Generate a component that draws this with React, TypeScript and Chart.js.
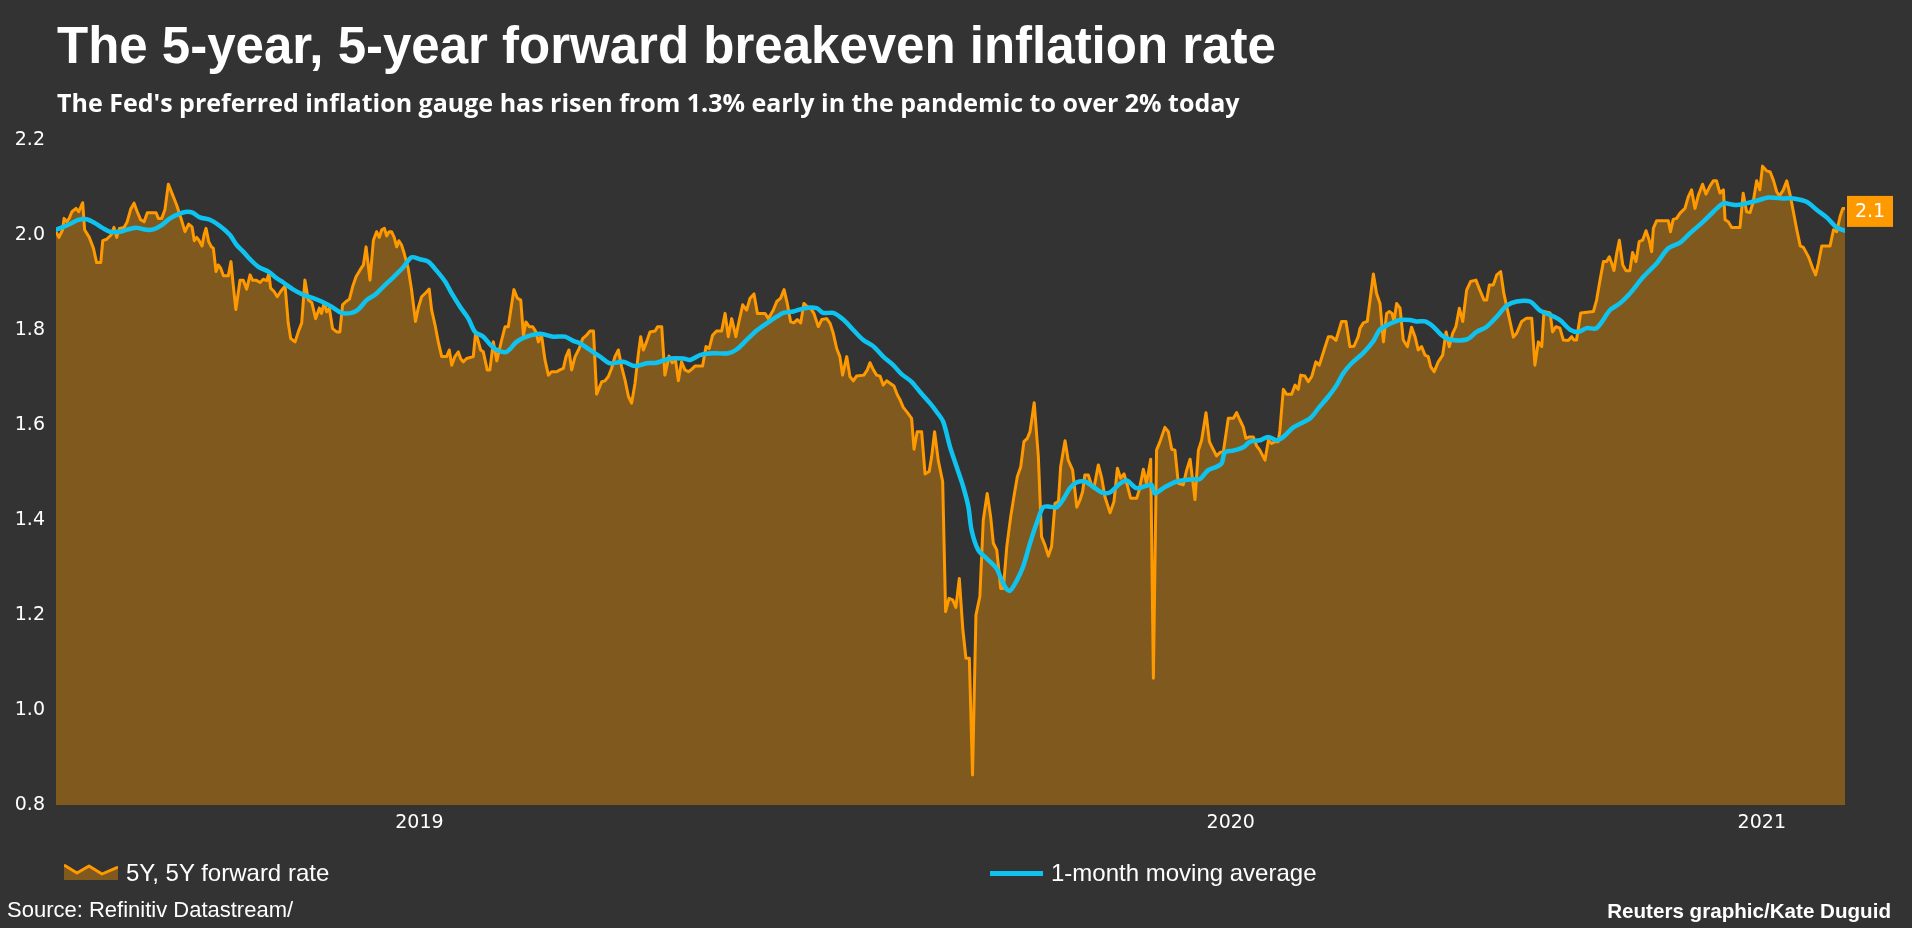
import React, { useEffect, useRef } from "react";
import { Chart, registerables } from "chart.js";

Chart.register(...registerables);

// ---------- DATA ----------
const START_DATE = "2019-03-10";
const END_DATE = "2021-03-10";
const YEAR_STARTS = ["2020-01-01", "2021-01-01"];
const YEAR_LABELS = ["2019", "2020", "2021"];
const Y_MIN = 0.8;
const Y_MAX = 2.2;
const Y_STEP = 0.2;

const SERIES_NAMES = ["5Y, 5Y forward rate", "1-month moving average"];

// day offsets from START_DATE
const RATE_DAYS = [
  0, 1.2, 2.7, 3.3, 4.4, 5.4, 6.5, 8.2, 9.3, 10.9, 11.7, 13.6, 15.3, 16.6, 18.3, 19.1, 20.7, 22.5, 23.7, 24.8,
  25.9, 27.8, 29.1, 30.5, 31.9, 33.2, 34.6, 36.0, 37.3, 40.9, 41.8, 43.2, 44.5, 45.9, 47.7, 49.3, 50.9, 52.7, 54.2, 55.6,
  56.5, 57.5, 58.4, 59.7, 60.5, 61.3, 62.4, 63.5, 64.3, 65.4, 66.3, 67.3, 68.4, 70.4, 71.5, 72.4, 73.5, 75.2, 76.5, 77.9,
  79.3, 80.3, 81.7, 83.4, 84.7, 86.1, 87.0, 87.7, 89.1, 90.4, 91.8, 93.6, 94.9, 95.9, 97.7, 99.0, 100.4, 101.7, 103.1, 104.5,
  106.1, 107.6, 108.5, 109.6, 110.6, 111.7, 113.0, 114.7, 116.0, 117.1, 118.5, 119.9, 121.2, 122.6, 124.2, 125.6, 126.7, 128.3, 129.7, 131.0,
  132.1, 133.1, 134.2, 135.1, 136.1, 137.1, 138.2, 139.2, 140.1, 141.2, 142.3, 143.9, 145.3, 146.9, 148.0, 149.4, 151.2, 152.5, 153.5, 154.9,
  156.2, 157.6, 159.6, 160.7, 161.7, 163.0, 164.4, 165.3, 166.4, 167.8, 170.5, 171.5, 172.6, 173.5, 174.6, 176.2, 177.3, 178.7, 180.1, 182.1,
  183.5, 184.8, 187.1, 188.5, 189.9, 191.0, 192.0, 193.4, 194.8, 196.1, 197.1, 198.4, 199.8, 201.2, 202.5, 204.6, 205.9, 207.3, 208.4, 209.6,
  210.7, 212.1, 213.8, 215.2, 216.8, 218.2, 219.6, 220.9, 223.0, 224.3, 225.7, 227.0, 228.4, 229.8, 231.1, 232.5, 233.9, 235.2, 236.6, 237.9,
  238.9, 240.0, 241.3, 242.7, 244.8, 245.8, 247.5, 248.8, 250.5, 251.8, 253.2, 254.3, 255.6, 257.0, 258.4, 259.7, 261.1, 264.2, 265.6, 266.9,
  268.3, 269.9, 272.0, 273.4, 274.7, 276.1, 277.8, 279.2, 280.6, 282.2, 283.6, 285.2, 286.6, 289.7, 291.1, 293.1, 294.5, 296.1, 297.5, 298.8,
  300.2, 301.5, 302.9, 304.3, 305.6, 307.0, 308.3, 309.7, 311.5, 312.9, 314.9, 316.3, 317.6, 319.0, 320.3, 321.4, 323.1, 324.4, 325.8, 327.1,
  330.1, 331.5, 332.6, 334.0, 335.3, 336.7, 338.0, 339.4, 340.8, 342.4, 343.8, 344.9, 346.2, 347.9, 349.6, 350.6, 351.9, 353.7, 355.1, 356.8,
  357.8, 359.0, 360.5, 362.3, 363.5, 364.9, 366.4, 367.7, 369.1, 370.5, 371.8, 373.2, 374.5, 375.9, 377.5, 378.9, 380.5, 381.9, 383.0, 384.4,
  386.0, 387.1, 388.5, 390.1, 391.4, 392.8, 394.2, 395.5, 396.9, 398.0, 399.7, 401.4, 402.7, 404.1, 405.5, 406.8, 408.2, 409.6, 410.5, 412.3,
  413.6, 415.4, 417.1, 418.4, 419.5, 420.4, 421.8, 423.2, 424.1, 425.9, 427.3, 428.6, 430.7, 432.3, 433.7, 435.0, 436.4, 437.7, 439.1, 441.6,
  442.6, 444.3, 445.6, 447.3, 448.4, 449.7, 451.1, 453.1, 454.5, 455.9, 457.2, 458.6, 460.6, 462.0, 463.4, 465.4, 466.8, 468.1, 469.9, 471.3,
  472.6, 474.2, 475.6, 477.0, 479.0, 481.1, 482.4, 483.8, 485.1, 486.2, 487.6, 489.2, 490.6, 491.9, 494.0, 495.4, 496.7, 498.1, 499.4, 500.1,
  501.5, 502.8, 504.9, 506.3, 507.6, 508.6, 510.3, 511.7, 513.1, 514.8, 516.2, 517.6, 519.9, 521.2, 523.0, 525.3, 527.1, 528.7, 530.4, 532.1,
  532.8, 534.2, 535.8, 538.3, 539.6, 541.0, 542.4, 543.7, 544.8, 545.9, 546.7, 547.8, 549.2, 550.5, 552.2, 553.9, 555.3, 556.6, 558.0, 559.4,
  560.7, 561.7, 563.1, 564.8, 566.6, 568.0, 569.3, 570.7, 572.0, 573.4, 574.8, 576.4, 578.0, 580.2, 581.8, 583.5, 584.6, 585.7, 587.3, 588.7,
  590.3, 591.6, 593.4, 595.5, 596.8, 598.9, 600.9, 603.0, 604.3, 605.7, 607.1, 608.0, 610.5, 611.5, 612.9, 614.5, 615.9, 617.9, 619.3, 620.2,
  621.3, 623.0, 628.2, 629.5, 630.9, 632.3, 633.6, 634.7, 635.7, 636.6, 637.7, 638.8, 640.2, 641.5, 643.1, 644.2, 645.6, 646.9, 648.3, 649.7,
  651.0, 652.0, 652.7, 654.0, 658.8, 659.7, 660.8, 662.2, 663.6, 665.6, 667.0, 668.3, 669.7, 671.1, 672.8, 674.2, 675.8, 677.2, 678.5, 679.9,
  681.3, 682.0, 683.3, 684.7, 688.1, 689.4, 690.8, 692.2, 693.5, 694.9, 696.2, 697.3, 699.0, 700.4, 701.7, 703.1, 704.2, 705.8, 707.2, 708.6,
  709.9, 711.3, 712.7, 714.0, 716.1, 717.8, 719.0, 720.1, 721.5, 724.9, 726.3, 727.6, 729.0, 730.1, 731.0,
];

const RATE_VALUES = [
  2.007, 1.995, 2.011, 2.035, 2.028, 2.035, 2.049, 2.056, 2.049, 2.068, 2.011, 1.995, 1.972, 1.942, 1.942, 1.988, 1.991, 2.0, 2.016, 1.995,
  2.014, 2.016, 2.028, 2.054, 2.067, 2.049, 2.032, 2.028, 2.047, 2.047, 2.035, 2.035, 2.053, 2.107, 2.084, 2.063, 2.038, 2.007, 2.023, 2.017,
  1.988, 1.995, 1.989, 1.977, 2.0, 2.014, 1.986, 1.975, 1.972, 1.923, 1.937, 1.93, 1.914, 1.914, 1.944, 1.895, 1.843, 1.905, 1.905, 1.886,
  1.916, 1.905, 1.905, 1.9, 1.907, 1.904, 1.919, 1.888, 1.881, 1.87, 1.881, 1.893, 1.814, 1.782, 1.775, 1.796, 1.815, 1.905, 1.863, 1.858,
  1.824, 1.846, 1.835, 1.858, 1.838, 1.846, 1.803, 1.796, 1.796, 1.853, 1.86, 1.865, 1.891, 1.912, 1.926, 1.937, 1.975, 1.905, 1.989, 2.007,
  1.995, 2.011, 2.014, 1.998, 2.007, 2.007, 1.995, 1.975, 1.988, 1.979, 1.961, 1.93, 1.884, 1.818, 1.846, 1.87, 1.879, 1.886, 1.842, 1.81,
  1.775, 1.744, 1.744, 1.758, 1.726, 1.744, 1.754, 1.74, 1.733, 1.74, 1.744, 1.796, 1.775, 1.758, 1.754, 1.716, 1.716, 1.775, 1.735, 1.779,
  1.807, 1.807, 1.885, 1.867, 1.863, 1.789, 1.817, 1.807, 1.807, 1.796, 1.775, 1.789, 1.737, 1.705, 1.712, 1.712, 1.716, 1.719, 1.744, 1.758,
  1.716, 1.744, 1.761, 1.782, 1.789, 1.798, 1.798, 1.665, 1.691, 1.693, 1.702, 1.719, 1.744, 1.758, 1.723, 1.695, 1.66, 1.646, 1.688, 1.747,
  1.786, 1.758, 1.775, 1.796, 1.798, 1.807, 1.807, 1.705, 1.745, 1.731, 1.735, 1.693, 1.733, 1.716, 1.712, 1.717, 1.724, 1.724, 1.765, 1.761,
  1.789, 1.798, 1.798, 1.835, 1.786, 1.824, 1.786, 1.821, 1.853, 1.842, 1.867, 1.876, 1.835, 1.835, 1.824, 1.842, 1.86, 1.867, 1.885, 1.856,
  1.817, 1.815, 1.822, 1.815, 1.856, 1.849, 1.846, 1.835, 1.807, 1.822, 1.824, 1.814, 1.793, 1.761, 1.744, 1.705, 1.744, 1.702, 1.693, 1.703,
  1.705, 1.716, 1.731, 1.716, 1.705, 1.703, 1.684, 1.693, 1.688, 1.682, 1.663, 1.653, 1.637, 1.626, 1.614, 1.549, 1.586, 1.586, 1.497, 1.502,
  1.533, 1.586, 1.525, 1.481, 1.207, 1.235, 1.232, 1.216, 1.277, 1.172, 1.109, 1.109, 0.863, 1.2, 1.239, 1.4, 1.456, 1.407, 1.351, 1.337,
  1.256, 1.256, 1.344, 1.407, 1.449, 1.491, 1.512, 1.565, 1.572, 1.586, 1.647, 1.533, 1.365, 1.347, 1.324, 1.344, 1.435, 1.439, 1.512, 1.567,
  1.526, 1.505, 1.427, 1.442, 1.46, 1.495, 1.495, 1.472, 1.467, 1.516, 1.488, 1.449, 1.415, 1.439, 1.509, 1.488, 1.497, 1.474, 1.446, 1.446,
  1.463, 1.507, 1.477, 1.528, 1.067, 1.547, 1.565, 1.595, 1.586, 1.549, 1.547, 1.477, 1.474, 1.505, 1.528, 1.443, 1.547, 1.568, 1.626, 1.565,
  1.551, 1.535, 1.542, 1.544, 1.614, 1.614, 1.626, 1.61, 1.596, 1.572, 1.575, 1.575, 1.556, 1.547, 1.526, 1.568, 1.561, 1.565, 1.565, 1.589,
  1.675, 1.665, 1.665, 1.684, 1.675, 1.705, 1.703, 1.691, 1.702, 1.733, 1.726, 1.749, 1.786, 1.786, 1.778, 1.818, 1.818, 1.765, 1.766, 1.786,
  1.803, 1.815, 1.818, 1.918, 1.877, 1.856, 1.775, 1.835, 1.839, 1.835, 1.818, 1.856, 1.846, 1.779, 1.765, 1.806, 1.786, 1.758, 1.765, 1.747,
  1.744, 1.723, 1.712, 1.733, 1.747, 1.796, 1.765, 1.793, 1.807, 1.846, 1.818, 1.884, 1.902, 1.905, 1.884, 1.863, 1.863, 1.895, 1.895, 1.916,
  1.923, 1.877, 1.835, 1.785, 1.793, 1.818, 1.825, 1.825, 1.726, 1.775, 1.765, 1.839, 1.836, 1.796, 1.807, 1.804, 1.779, 1.778, 1.786, 1.779,
  1.779, 1.836, 1.839, 1.863, 1.905, 1.944, 1.944, 1.954, 1.94, 1.925, 1.961, 1.989, 1.937, 1.925, 1.925, 1.963, 1.944, 1.986, 1.989, 2.009,
  1.989, 1.965, 2.014, 2.03, 2.03, 2.007, 2.033, 2.035, 2.046, 2.056, 2.081, 2.095, 2.056, 2.084, 2.107, 2.086, 2.103, 2.114, 2.114, 2.088,
  2.095, 2.032, 2.028, 2.016, 2.016, 2.088, 2.049, 2.047, 2.07, 2.114, 2.095, 2.145, 2.135, 2.133, 2.116, 2.091, 2.082, 2.095, 2.114, 2.084,
  2.049, 2.011, 1.977, 1.974, 1.954, 1.93, 1.916, 1.94, 1.977, 1.977, 2.011, 2.007, 2.039, 2.056, 2.056,
];

const AVG_DAYS = [
  0, 3.0, 5.7, 9.1, 12.5, 15.9, 19.3, 22.1, 26.2, 29.6, 33.0, 37.0, 39.8, 43.2, 46.6, 50.0, 53.4, 55.8, 58.8, 62.9,
  67.0, 71.1, 73.8, 76.5, 79.3, 82.7, 86.8, 90.2, 92.9, 97.0, 101.1, 105.1, 108.5, 112.6, 116.7, 120.8, 123.5, 126.9, 130.3, 133.7,
  137.8, 141.9, 145.3, 148.7, 152.1, 155.5, 159.0, 161.7, 165.1, 168.5, 171.2, 174.6, 177.3, 180.1, 184.1, 188.2, 192.3, 197.8, 203.2, 208.0,
  211.4, 214.1, 218.2, 222.3, 226.3, 231.8, 236.6, 241.3, 245.4, 250.9, 256.3, 259.1, 263.1, 268.6, 274.7, 278.1, 282.2, 286.3, 290.4, 294.5,
  297.2, 301.3, 306.0, 310.8, 313.5, 317.6, 321.7, 325.8, 329.9, 333.9, 338.0, 342.1, 345.5, 349.6, 353.0, 357.1, 359.8, 362.5, 365.3, 368.0,
  370.7, 372.8, 374.1, 376.8, 380.3, 384.3, 386.4, 388.2, 389.8, 392.5, 395.2, 398.0, 400.7, 403.4, 406.1, 408.9, 411.6, 414.3, 417.0, 420.4,
  423.8, 427.2, 430.6, 434.1, 437.5, 441.5, 445.6, 447.7, 449.0, 452.4, 457.9, 464.7, 467.4, 470.8, 474.2, 476.3, 477.6, 481.0, 485.1, 487.9,
  491.9, 495.3, 498.7, 501.5, 505.6, 512.4, 515.8, 519.9, 523.3, 526.0, 529.4, 534.2, 538.2, 541.0, 545.1, 549.2, 553.2, 556.0, 559.4, 562.8,
  566.2, 569.6, 576.4, 580.5, 584.6, 588.7, 592.7, 596.8, 602.3, 606.4, 610.4, 614.5, 618.6, 622.0, 625.4, 629.5, 635.0, 639.0, 643.1, 648.6,
  654.0, 658.8, 663.6, 667.7, 673.1, 677.2, 681.3, 684.0, 686.7, 690.8, 694.9, 699.7, 705.8, 709.9, 715.3, 719.4, 723.5, 727.6, 731.0,
];

const AVG_VALUES = [
  2.011, 2.017, 2.023, 2.032, 2.033, 2.025, 2.014, 2.007, 2.007, 2.012, 2.015, 2.011, 2.012, 2.021, 2.035, 2.044, 2.049, 2.047, 2.037, 2.032,
  2.019, 2.0, 1.979, 1.965, 1.949, 1.933, 1.923, 1.909, 1.9, 1.885, 1.874, 1.867, 1.86, 1.849, 1.836, 1.836, 1.843, 1.863, 1.874, 1.891,
  1.911, 1.932, 1.953, 1.949, 1.944, 1.925, 1.902, 1.877, 1.849, 1.824, 1.796, 1.786, 1.77, 1.758, 1.754, 1.775, 1.786, 1.792, 1.786, 1.786,
  1.777, 1.772, 1.758, 1.744, 1.73, 1.733, 1.724, 1.73, 1.731, 1.74, 1.74, 1.737, 1.747, 1.751, 1.751, 1.759, 1.779, 1.799, 1.814, 1.828,
  1.836, 1.839, 1.846, 1.846, 1.836, 1.836, 1.822, 1.8, 1.779, 1.766, 1.744, 1.726, 1.707, 1.691, 1.67, 1.646, 1.628, 1.607, 1.554, 1.512,
  1.47, 1.428, 1.379, 1.337, 1.319, 1.298, 1.274, 1.256, 1.251, 1.272, 1.302, 1.351, 1.393, 1.427, 1.428, 1.427, 1.444, 1.467, 1.479, 1.481,
  1.47, 1.458, 1.458, 1.474, 1.483, 1.467, 1.472, 1.474, 1.456, 1.467, 1.481, 1.486, 1.486, 1.505, 1.512, 1.519, 1.542, 1.546, 1.553, 1.565,
  1.568, 1.575, 1.568, 1.575, 1.595, 1.614, 1.635, 1.66, 1.684, 1.709, 1.73, 1.752, 1.776, 1.801, 1.813, 1.821, 1.821, 1.818, 1.818, 1.807,
  1.789, 1.78, 1.78, 1.796, 1.807, 1.828, 1.851, 1.86, 1.86, 1.841, 1.832, 1.821, 1.801, 1.796, 1.804, 1.804, 1.842, 1.856, 1.877, 1.912,
  1.94, 1.972, 1.984, 2.004, 2.028, 2.049, 2.067, 2.065, 2.063, 2.067, 2.072, 2.079, 2.077, 2.077, 2.07, 2.053, 2.037, 2.016, 2.009,
];

// ---------- STYLE ----------
const BG = "#333333";
const ORANGE = "#FF9900";
const AREA = "#80591F";
const BLUE = "#0FC3F0";
const TEXT = "#FFFFFF";

const DAY_MS = 86400000;
const dayOf = (d: string) => (Date.parse(d) - Date.parse(START_DATE)) / DAY_MS;

const lastValuePlugin = {
  id: "lastValue",
  afterDatasetsDraw(chart: any) {
    const meta = chart.getDatasetMeta(1);
    if (!meta || !meta.data.length) return;
    const pt = meta.data[meta.data.length - 1];
    const ctx = chart.ctx;
    const label = RATE_VALUES[RATE_VALUES.length - 1].toFixed(1);
    const w = 46;
    const h = 31;
    const x = chart.chartArea.right + 2;
    const y = pt.y + 3 - h / 2;
    ctx.save();
    ctx.fillStyle = ORANGE;
    ctx.fillRect(x, y, w, h);
    ctx.fillStyle = TEXT;
    ctx.font = "19px 'DejaVu Sans'";
    ctx.textAlign = "center";
    ctx.textBaseline = "middle";
    ctx.fillText(label, x + w / 2, y + h / 2 + 1);
    ctx.restore();
  },
};

export default function App() {
  const canvasRef = useRef<HTMLCanvasElement | null>(null);

  useEffect(() => {
    const canvas = canvasRef.current;
    if (!canvas) return;
    const endDay = dayOf(END_DATE);
    const bounds = [0, ...YEAR_STARTS.map(dayOf), endDay];
    const tickPos = YEAR_LABELS.map((_, i) => (bounds[i] + bounds[i + 1]) / 2);

    const chart = new Chart(canvas, {
      type: "line",
      data: {
        datasets: [
          {
            label: SERIES_NAMES[1],
            data: AVG_DAYS.map((d, i) => ({ x: d, y: AVG_VALUES[i] })),
            borderColor: BLUE,
            borderWidth: 4.5,
            pointRadius: 0,
            tension: 0.3,
            fill: false,
            borderCapStyle: "round",
            borderJoinStyle: "round",
          },
          {
            label: SERIES_NAMES[0],
            data: RATE_DAYS.map((d, i) => ({ x: d, y: RATE_VALUES[i] })),
            borderColor: ORANGE,
            backgroundColor: AREA,
            borderWidth: 3,
            pointRadius: 0,
            tension: 0,
            fill: "start",
            borderJoinStyle: "round",
          },
        ],
      },
      options: {
        animation: false,
        responsive: false,
        events: [],
        layout: { padding: { left: 8, top: 140, right: 67, bottom: 83 } },
        plugins: {
          legend: { display: false },
          tooltip: { enabled: false },
          title: { display: false },
        },
        scales: {
          x: {
            type: "linear",
            min: 0,
            max: endDay,
            grid: { display: false, drawTicks: false },
            border: { display: false },
            afterBuildTicks: (scale: any) => {
              scale.ticks = tickPos.map((v) => ({ value: v }));
            },
            afterFit: (scale: any) => {
              scale.height = 40;
            },
            ticks: {
              autoSkip: false,
              maxRotation: 0,
              padding: 7,
              color: TEXT,
              font: { family: "'DejaVu Sans'", size: 19 },
              callback: (v: any) => {
                const i = tickPos.findIndex((p) => Math.abs(p - v) < 0.01);
                return i >= 0 ? YEAR_LABELS[i] : "";
              },
            },
          },
          y: {
            min: Y_MIN,
            max: Y_MAX,
            grid: { display: false, drawTicks: false },
            border: { display: false },
            afterFit: (scale: any) => {
              scale.width = 48;
            },
            ticks: {
              stepSize: Y_STEP,
              padding: 11,
              color: TEXT,
              font: { family: "'DejaVu Sans'", size: 19 },
              callback: (v: any) => Number(v).toFixed(1),
            },
          },
        },
      },
      plugins: [lastValuePlugin],
    } as any);
    return () => chart.destroy();
  }, []);

  const abs = (s: React.CSSProperties): React.CSSProperties => ({ position: "absolute", whiteSpace: "nowrap", ...s });

  return (
    <div
      style={{
        position: "fixed",
        left: 0,
        top: 0,
        width: 1912,
        height: 928,
        background: BG,
        overflow: "hidden",
        color: TEXT,
        fontFamily: "'Liberation Sans', Arial, sans-serif",
      }}
    >
      <canvas ref={canvasRef} width={1912} height={928} style={{ position: "absolute", left: 0, top: 0, width: 1912, height: 928 }} />
      <div style={abs({ left: 57, top: 20, fontSize: 51, lineHeight: "51px", fontWeight: 700 })}>
        The 5-year, 5-year forward breakeven inflation rate
      </div>
      <div
        style={abs({
          left: 57,
          top: 89,
          fontSize: 25,
          lineHeight: "26px",
          fontWeight: 700,
          fontFamily: "'Open Sans', Lato, sans-serif",
        })}
      >
        The Fed's preferred inflation gauge has risen from 1.3% early in the pandemic to over 2% today
      </div>
      {/* legend */}
      <svg style={abs({ left: 64, top: 862 })} width={54} height={18} viewBox="0 0 54 18">
        <polygon points="0,3 13,11 25,4 38,12 54,5 54,18 0,18" fill={AREA} />
        <polyline points="0,3 13,11 25,4 38,12 54,5" fill="none" stroke={ORANGE} strokeWidth={3} strokeLinejoin="round" />
      </svg>
      <div style={abs({ left: 126, top: 861, fontSize: 24, lineHeight: "24px" })}>{SERIES_NAMES[0]}</div>
      <div style={abs({ left: 990, top: 871, width: 53, height: 5, background: BLUE })} />
      <div style={abs({ left: 1051, top: 861, fontSize: 24, lineHeight: "24px" })}>{SERIES_NAMES[1]}</div>
      {/* footer */}
      <div style={abs({ left: 7, top: 899, fontSize: 22, lineHeight: "22px" })}>Source: Refinitiv Datastream/</div>
      <div style={abs({ right: 21, top: 900, fontSize: 20.6, lineHeight: "21px", fontWeight: 700 })}>Reuters graphic/Kate Duguid</div>
    </div>
  );
}
